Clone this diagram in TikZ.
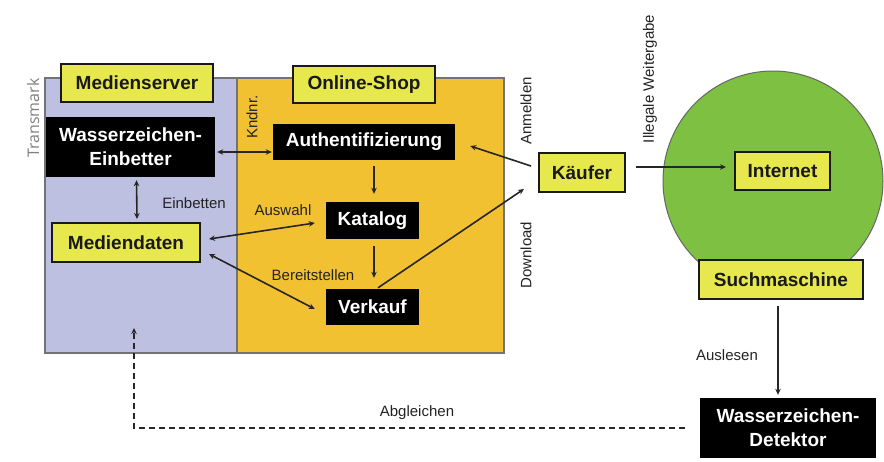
\documentclass[tikz,border=0pt]{standalone}
\usepackage{fontspec}
\setmainfont{Liberation Sans}
\newfontfamily\markfont{Open Sans}
\usetikzlibrary{arrows.meta}

\definecolor{serverbg}{RGB}{190,192,225}
\definecolor{shopbg}{RGB}{242,193,50}
\definecolor{netgreen}{RGB}{126,192,66}
\definecolor{boxyellow}{RGB}{230,232,78}
\definecolor{labelgray}{RGB}{35,35,35}

\begin{document}
\begin{tikzpicture}[
        x=1pt, y=-1pt,
        % Define styles for consistency
        ybox/.style={draw=black!90, line width=2pt, fill=boxyellow, inner sep=0pt,
            font=\bfseries\fontsize{19}{24}\selectfont, text=black!90},
        bbox/.style={fill=black, inner sep=0pt, align=center,
            font=\bfseries\fontsize{19}{24}\selectfont, text=white},
        lbl/.style={font=\fontsize{15}{18}\selectfont, text=labelgray, inner sep=0pt},
        link/.style={black!85, line width=1.6pt, -{Stealth[length=6pt,width=5.5pt]}},
        biglink/.style={link, {Stealth[length=6pt,width=5.5pt]}-{Stealth[length=6pt,width=5.5pt]}}
    ]

        \useasboundingbox (0,0) rectangle (884,461);

        % --- Panels ---
        % Medienserver
        \filldraw[fill=serverbg, draw=black!55, line width=1.2pt] (45,78) rectangle (237,353);
        % Online-Shop
        \filldraw[fill=shopbg, draw=black!55, line width=1.2pt] (237,78) rectangle (504,353);
        % Internet
        \filldraw[fill=netgreen, draw=black!60, line width=1pt] (773,181) circle[radius=110];

        % --- Nodes ---
        \node[ybox, minimum width=152, minimum height=38] (server) at (137,83) {Medienserver};
        \node[ybox, minimum width=142, minimum height=37] (shop) at (364,84.5) {Online-Shop};
        \node[bbox, minimum width=169, minimum height=60] (einbetter) at (130.5,147) {Wasserzeichen-\\Einbetter};
        \node[bbox, minimum width=182, minimum height=36] (auth) at (364,142) {Authentifizierung};
        \node[bbox, minimum width=93, minimum height=37] (katalog) at (372.5,220.5) {Katalog};
        \node[ybox, minimum width=148, minimum height=39] (medien) at (126,242.5) {Mediendaten};
        \node[bbox, minimum width=93, minimum height=36] (verkauf) at (372.5,307) {Verkauf};
        \node[ybox, minimum width=86, minimum height=39] (kaeufer) at (582,172.5) {Käufer};
        \node[ybox, minimum width=95, minimum height=38] (internet) at (782.5,171) {Internet};
        \node[ybox, minimum width=164, minimum height=39] (such) at (781,279.5) {Suchmaschine};
        \node[bbox, minimum width=176, minimum height=60] (detektor) at (788,428) {Wasserzeichen-\\Detektor};

        % Return point of the dashed line
        \coordinate (ret) at (134,328);

        % --- Labels ---
        \node[rotate=90, font=\markfont\fontsize{16}{18}\selectfont, text=black!50, inner sep=0pt] (transmark) at (33,118) {Transmark};
        \node[lbl, rotate=90] (kndnr) at (252,117) {Kndnr.};
        \node[lbl] (einbetten) at (194,203) {Einbetten};
        \node[lbl] (auswahl) at (283,210) {Auswahl};
        \node[lbl] (bereit) at (313,275) {Bereitstellen};
        \node[lbl, rotate=90] (anmelden) at (526,111) {Anmelden};
        \node[lbl, rotate=90] (download) at (526,255) {Download};
        \node[lbl, rotate=90] (weitergabe) at (650,79) {Illegale Weitergabe};
        \node[lbl] (auslesen) at (727,355) {Auslesen};
        \node[lbl] (abgleich) at (417,413) {Abgleichen};

        % --- Draw Edges ---
        % Einbetter connections
        \draw[biglink] ([shift={(2pt,-5pt)}]einbetter.east) -- ([shift={(-1pt,-10pt)}]auth.west);
        \draw[biglink] ([shift={(6pt,-3pt)}]einbetter.south) -- ([shift={(11pt,3pt)}]medien.north);

        % Shop chain
        \draw[link] ([shift={(10pt,-6pt)}]auth.south) -- ([shift={(1.5pt,8pt)}]katalog.north);
        \draw[link] ([shift={(1.5pt,-7pt)}]katalog.south) -- ([shift={(1.5pt,11pt)}]verkauf.north);

        % Mediendaten connections
        \draw[biglink] ([shift={(8pt,3.5pt)}]medien.east) -- ([shift={(-11pt,-2.5pt)}]katalog.west);
        \draw[biglink] ([shift={(8pt,-11.5pt)}]medien.east) -- ([shift={(-11pt,-2pt)}]verkauf.west);

        % Kaeufer connections
        \draw[link] ([shift={(5.5pt,1pt)}]verkauf.north) -- ([shift={(-14pt,-16.5pt)}]kaeufer.west);
        \draw[link] ([shift={(-7pt,6.5pt)}]kaeufer.west) -- ([shift={(15pt,-4pt)}]auth.east);
        \draw[link] ([shift={(10pt,5.5pt)}]kaeufer.east) -- ([shift={(-8pt,4pt)}]internet.west);

        % Detection
        \draw[link] ([shift={(-3pt,-6pt)}]such.south) -- ([shift={(-10pt,3pt)}]detektor.north);
        \draw[link, dash pattern=on 6pt off 4pt, line width=2.2pt] ([xshift=-15pt]detektor.west) -| (ret);

    \end{tikzpicture}
\end{document}
